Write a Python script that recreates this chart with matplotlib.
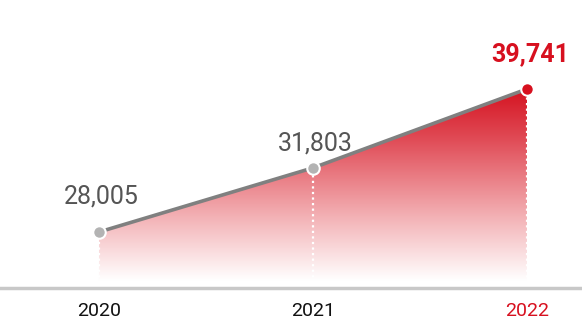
import matplotlib
matplotlib.use("Agg")
import matplotlib.pyplot as plt
import numpy as np
from matplotlib.colors import LinearSegmentedColormap
from matplotlib.patches import Polygon

years = ["2020", "2021", "2022"]
values = [28005, 31803, 39741]
labels = ["28,005", "31,803", "39,741"]

RED = "#d7101f"
GRAY_TXT = "#555555"

fig = plt.figure(figsize=(5.82, 3.24), dpi=100)
ax = fig.add_axes([0, 36 / 324, 1, 288 / 324])
x = np.arange(len(values))

# the original chart uses a compressed (non-linear) value axis
C = 21700.0
ax.set_yscale("function", functions=(lambda v: np.log(np.maximum(v - C, 1e-9)),
                                     lambda t: np.exp(t) + C))
ax.set_xlim(-0.4626, 2.257)
ax.set_ylim(25877, 56400)
ax.axis("off")
ylo, yhi = ax.get_ylim()

# gradient fill under line (vertical gradient in axes space)
cmap = LinearSegmentedColormap.from_list(
    "g", [(0.0, "#ffffff"), (0.025, "#ffffff"), (0.25, "#f3b0b4"),
          (0.52, "#e04a55"), (0.70, "#d4101e"), (1.0, "#d4101e")])
grad = np.linspace(0, 1, 256).reshape(-1, 1)
img = ax.imshow(grad, extent=[0, 1, 0, 1], origin="lower", transform=ax.transAxes,
                aspect="auto", cmap=cmap, zorder=1)
poly_pts = [(x[0], ylo)] + list(zip(x, values)) + [(x[-1], ylo)]
poly = Polygon(poly_pts, closed=True, transform=ax.transData, facecolor="none", edgecolor="none")
ax.add_patch(poly)
img.set_clip_path(poly)
ax.set_xlim(-0.4626, 2.257)
ax.set_ylim(ylo, yhi)

# dotted white drops
ax.vlines(x, ylo + 150, values, colors="white", linestyles=(0, (1, 1.5)), linewidth=1.6, zorder=2)

# line
ax.plot(x, values, color="#808080", linewidth=2.6, zorder=3, solid_capstyle="round")

# markers
mcolors = ["#b3b3b3", "#b3b3b3", RED]
for xi, v, c in zip(x, values, mcolors):
    ax.plot(xi, v, "o", markersize=9, markerfacecolor=c, markeredgecolor="white",
            markeredgewidth=1.5, zorder=4)

# value labels
offsets = [17, 9, 16.5]
for i, (xi, v, lab) in enumerate(zip(x, values, labels)):
    last = i == len(values) - 1
    ax.annotate(lab, (xi, v), xytext=(2, offsets[i]), textcoords="offset points",
                ha="center", va="bottom", fontsize=18, family="Roboto",
                fontweight="bold" if last else "normal",
                color=RED if last else GRAY_TXT, zorder=5)

# baseline
ax.axhline(ylo, color="#c8c8c8", linewidth=2.5, zorder=5, clip_on=False)

# x tick labels
for i, (xi, yr) in enumerate(zip(x, years)):
    last = i == len(years) - 1
    ax.annotate(yr, (xi, ylo), xytext=(0, -10), textcoords="offset points",
                ha="center", va="top", fontsize=14, family="Roboto",
                color=RED if last else "#111111", annotation_clip=False)

fig.savefig("out.png", dpi=100)
